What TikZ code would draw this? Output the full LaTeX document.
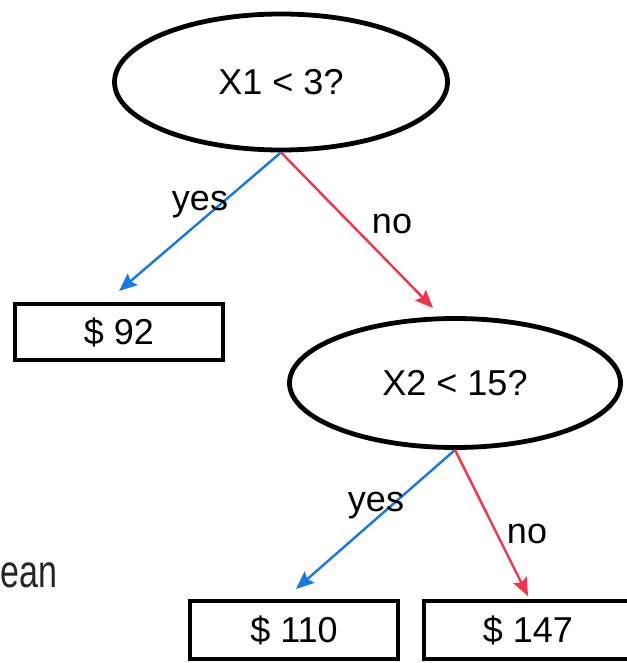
\documentclass[tikz,border=0pt]{standalone}
\usepackage{fontspec}
\setmainfont{Liberation Sans}
\usetikzlibrary{shapes.geometric,arrows.meta}

\definecolor{yesblue}{RGB}{22,119,232}
\definecolor{nored}{RGB}{245,52,76}

\tikzset{
  split/.style={ellipse, draw=black, line width=4.8pt, fill=white, inner sep=0pt,
    font=\fontsize{36}{40}\selectfont},
  leaf/.style={rectangle, draw=black, line width=4.5pt, fill=white, inner sep=0pt,
    minimum width=208pt, minimum height=56pt, font=\fontsize{36}{40}\selectfont},
  branch/.style={line width=2.4pt, -{Stealth[length=18pt, width=15pt, inset=3pt]}},
  yesarrow/.style={branch, draw=yesblue},
  noarrow/.style={branch, draw=nored},
  tag/.style={inner sep=0pt, font=\fontsize{36}{40}\selectfont}
}

\begin{document}
\begin{tikzpicture}[x=1pt, y=-1pt]
  \useasboundingbox (0,0) rectangle (626,663);

  % decision nodes
  \node[split, minimum width=333pt, minimum height=136pt] (root) at (281,82) {X1 < 3?};
  \node[split, minimum width=331pt, minimum height=129pt] (second) at (455,383) {X2 < 15?};

  % leaves
  \node[leaf] (leafa) at (119,332) {\$ 92};
  \node[leaf, minimum height=58pt] (leafb) at (294,630) {\$ 110};
  \node[leaf, minimum height=58pt] (leafc) at (528,630) {\$ 147};

  % arrow tips
  \coordinate (tipa) at (119,291);
  \coordinate (tipb) at (433,308);
  \coordinate (tipc) at (296,589);
  \coordinate (tipd) at (528,596);

  % branches
  \draw[yesarrow] (root.south) -- (tipa);
  \draw[noarrow] (root.south) -- (tipb);
  \draw[yesarrow] (second.south) -- (tipc);
  \draw[noarrow] (second.south) -- (tipd);

  % branch labels
  \node[tag] (ya) at (200,205) {yes};
  \node[tag] (na) at (392,224) {no};
  \node[tag] (yb) at (376,506) {yes};
  \node[tag] (nb) at (527,534) {no};

  % caption fragment at the left edge
  \node[inner sep=0pt, anchor=base west, text=black!85,
    font=\fontsize{46}{50}\selectfont] (cap) at (0,587) {\scalebox{0.74}[1]{ean}};
\end{tikzpicture}
\end{document}
